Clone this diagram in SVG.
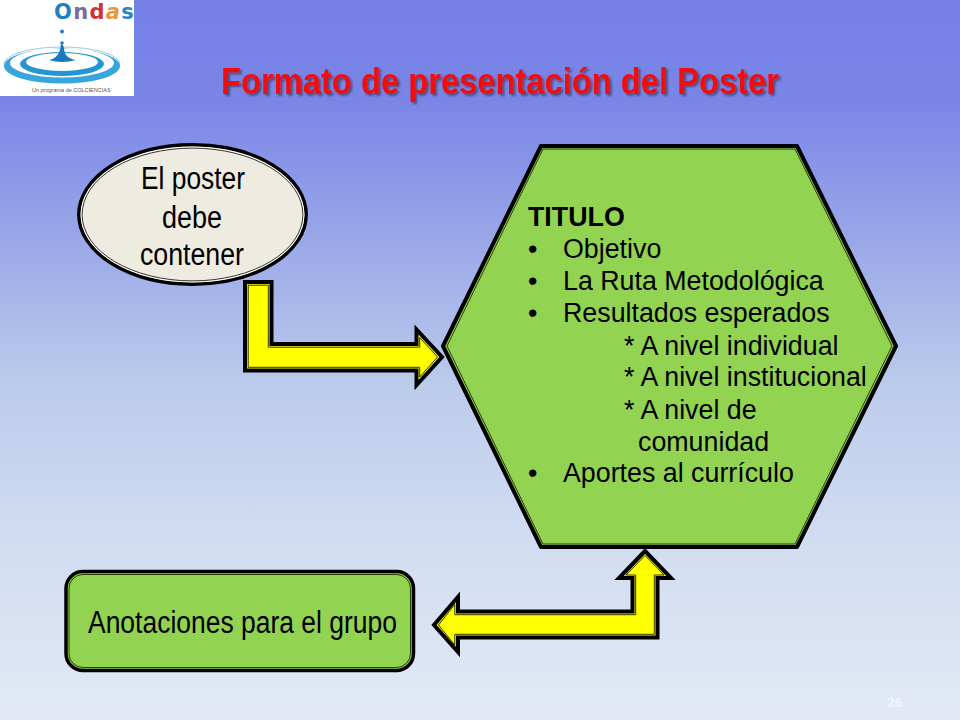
<svg xmlns="http://www.w3.org/2000/svg" width="960" height="720" viewBox="0 0 960 720">
<style>
text{font-family:"Liberation Sans",Arial,sans-serif;fill:#000}
.o{stroke:#000;stroke-width:4;stroke-linejoin:miter;fill:#ff0}
.i{fill:none;stroke:#1c1c00;stroke-width:.9}
.b{font-size:26.800px}
.n{font-size:31px}
</style>
<defs>
<linearGradient id="bg" x1="0" y1="0" x2="0" y2="1">
<stop offset="0" stop-color="#7480e6"/><stop offset="0.14" stop-color="#7a86e6"/><stop offset="0.54" stop-color="#bccceb"/><stop offset="0.74" stop-color="#d0dcf1"/><stop offset="1" stop-color="#e2e9f5"/>
</linearGradient>
<filter id="sh" x="-3%" y="-20%" width="106%" height="150%"><feDropShadow dx="2" dy="2" stdDeviation="1" flood-color="#3a3a60" flood-opacity=".75"/></filter>
</defs>
<rect width="960" height="720" fill="url(#bg)"/>
<g id="logo">
<rect x="0" y="0" width="134" height="96" fill="#fff"/>
<text x="54" y="19" font-size="21" font-weight="bold" letter-spacing="1.300" style="font-family:'DejaVu Sans',sans-serif;fill:#1f7fc0">O<tspan style="fill:#7a6a9a">n</tspan><tspan style="fill:#cf3030">d</tspan><tspan style="fill:#e8973a;font-style:italic">a</tspan><tspan style="fill:#2a86c6">s</tspan></text>
<circle cx="62" cy="31.500" r="2" fill="#1f7fc0"/>
<circle cx="62" cy="43" r="1.800" fill="#1f7fc0"/>
<ellipse cx="62" cy="64" rx="58" ry="17" fill="none" stroke="#9fc8e4" stroke-width="1"/>
<path fill-rule="evenodd" fill="#38a6dc" d="M4 66a58 17.500 0 1 0 116 0a58 17.500 0 1 0-116 0ZM10 63a52 14.500 0 1 0 104 0a52 14.500 0 1 0-104 0Z"/>
<path fill-rule="evenodd" fill="#2295d4" d="M20 64a42 12 0 1 0 84 0a42 12 0 1 0-84 0ZM26 62a36 9 0 1 0 72 0a36 9 0 1 0-72 0Z"/>
<path d="M49 60Q60 58 61 44Q63 44 64 48Q64 58 76 60Q62 64 49 60Z" fill="#1b78bd"/>
<text x="32" y="92" font-size="5.500" style="fill:#555">Un programa de COLCIENCIAS</text>
</g>
<g id="title">
<text x="500" y="94" text-anchor="middle" font-size="37" font-weight="bold" textLength="558" lengthAdjust="spacingAndGlyphs" style="fill:#f20a0a" filter="url(#sh)">Formato de presentación del Poster</text>
</g>
<g id="connectors">
<g id="arrow-1">
<path class="o" d="M245 282H271.500V344H416.500V329.500L442 357L416.500 385V370.500H245Z"/>
<path class="i" d="M248.200 285.200H268.300V347.200H419.700V337.500L437.500 357L419.700 377V367.300H248.200Z"/>
</g>
<g id="arrow-2">
<path class="o" d="M645 551L671 578H657.500V637.500H458V652L434 625L458 597V611.500H632.500V578H619Z"/>
<path class="i" d="M645 555.500L664 575H654.300V634.300H454.800V645L438.500 625L454.800 604.500V614.700H635.700V575H626Z"/>
</g>
</g>
<g id="node-ellipse">
<ellipse cx="192.500" cy="214.500" rx="113.700" ry="69.700" fill="#eeebe0" stroke="#000" stroke-width="3.500"/>
<ellipse cx="192.500" cy="214.500" rx="111.400" ry="67.400" fill="none" stroke="#fff" stroke-width="1"/>
<ellipse cx="192.500" cy="214.500" rx="110.400" ry="66.400" fill="none" stroke="#222" stroke-width=".9"/>
<text class="n" text-anchor="middle" x="193" y="189" textLength="104" lengthAdjust="spacingAndGlyphs">El poster</text>
<text class="n" text-anchor="middle" x="192" y="228" textLength="60" lengthAdjust="spacingAndGlyphs">debe</text>
<text class="n" text-anchor="middle" x="192" y="265" textLength="104" lengthAdjust="spacingAndGlyphs">contener</text>
</g>
<g id="node-hexagon">
<path d="M541 146H797L896 346L797 547H541L443 346Z" fill="#92d351" stroke="#000" stroke-width="4" stroke-linejoin="round"/>
<path d="M543 149H795L892 346L795 544H543L447 346Z" fill="none" stroke="#1c2c00" stroke-width=".9"/>
<text x="528" y="226" font-weight="bold" font-size="26.800">TITULO</text>
<text class="b" x="528" y="258">•</text><text class="b" x="563" y="258">Objetivo</text>
<text class="b" x="528" y="290">•</text><text class="b" x="563" y="290">La Ruta Metodológica</text>
<text class="b" x="528" y="322">•</text><text class="b" x="563" y="322">Resultados esperados</text>
<text class="b" x="624" y="355">* A nivel individual</text>
<text class="b" x="624" y="386">* A nivel institucional</text>
<text class="b" x="624" y="419">* A nivel de</text>
<text class="b" x="638" y="451">comunidad</text>
<text class="b" x="528" y="482">•</text><text class="b" x="563" y="482">Aportes al currículo</text>
</g>
<g id="node-rect">
<rect x="66" y="571.500" width="347.500" height="99" rx="17" fill="#92d351" stroke="#000" stroke-width="3.500"/>
<rect x="69" y="574.500" width="341.500" height="93" rx="14" fill="none" stroke="#1c2c00" stroke-width=".9"/>
<text class="n" x="88" y="633" textLength="309" lengthAdjust="spacingAndGlyphs">Anotaciones para el grupo</text>
</g>
<text x="887" y="707" font-size="13" font-weight="bold" style="font-family:'Open Sans',sans-serif;fill:#f4f6fc">26</text>
</svg>
